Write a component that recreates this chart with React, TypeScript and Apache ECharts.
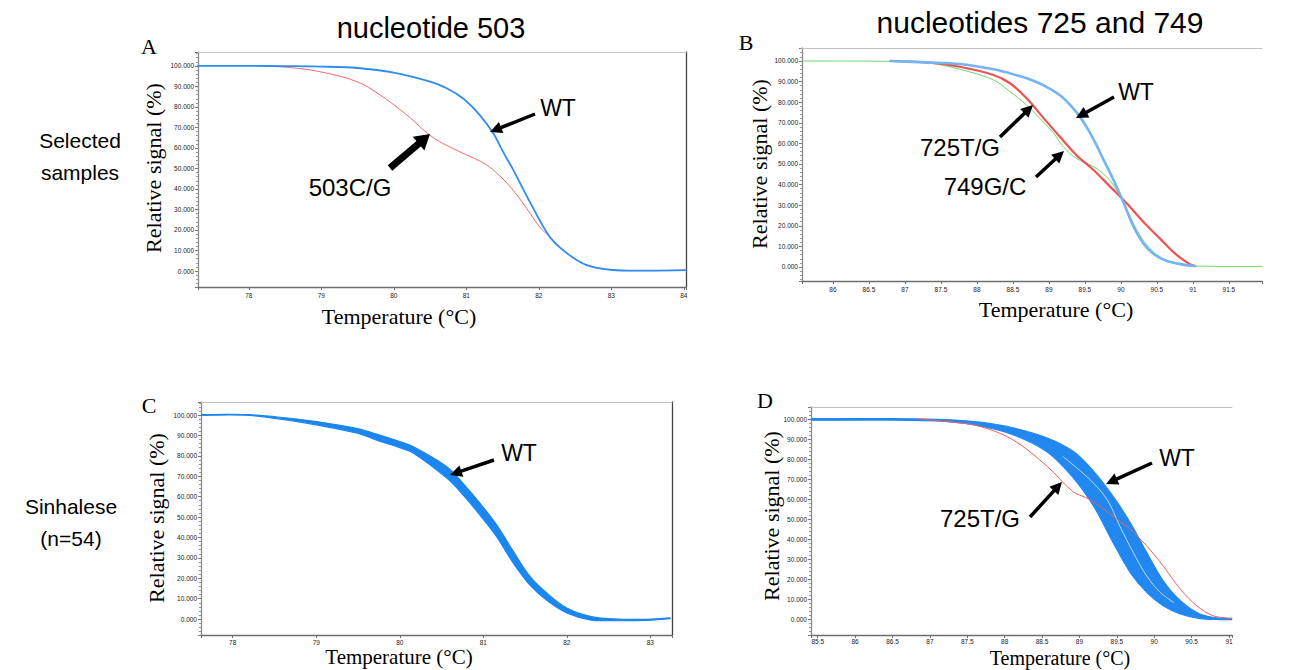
import React, { useEffect, useRef } from 'react';
import * as echarts from 'echarts';

// ---------- Panel A: nucleotide 503, selected samples ----------
const A_WT_TEMP = [77.3, 78.0, 78.5, 79.0, 79.5, 80.0, 80.5, 80.73, 80.96, 81.18, 81.37, 81.5, 81.64, 81.88, 82.15, 82.39, 82.66, 83.02, 83.5, 84.03];
const A_WT_SIGNAL = [100, 100, 99.9, 99.7, 99.0, 96.7, 92.3, 89.1, 84.0, 76.3, 67.3, 58.6, 49.8, 33.5, 16.7, 8.6, 2.9, 0.5, 0.2, 0.4];
const A_503_TEMP = [78.2, 78.57, 78.98, 79.49, 79.81, 80.18, 80.46, 80.63, 80.95, 81.28, 81.56, 81.78, 82.01, 82.15, 82.39, 82.66, 83.02, 83.5, 84.03];
const A_503_SIGNAL = [100, 99.2, 97.2, 92.4, 85.9, 76.1, 67.3, 63.1, 57.5, 51.7, 42.9, 33.2, 21.6, 16.7, 8.6, 2.9, 0.5, 0.2, 0.4];

// ---------- Panel B: nucleotides 725 and 749, selected samples ----------
const B_WT_TEMP = [86.8, 87.3, 87.76, 88.23, 88.46, 88.69, 88.92, 89.15, 89.29, 89.43, 89.52, 89.62, 89.76, 89.9, 90.04, 90.17, 90.31, 90.45, 90.63, 90.91, 91.03];
const B_WT_SIGNAL = [100, 99.3, 98.5, 96.0, 94.0, 91.6, 88.3, 83.5, 78.8, 73.0, 68.1, 61.9, 52.0, 42.0, 31.0, 20.0, 11.5, 6.4, 3.0, 0.9, 0.5];
const B_725_TEMP = [86.8, 87.3, 87.76, 88.23, 88.46, 88.69, 88.92, 89.15, 89.38, 89.62, 89.85, 90.08, 90.31, 90.54, 90.77, 90.95, 91.03];
const B_725_SIGNAL = [100, 99.3, 97.2, 93.2, 89.2, 81.9, 72.5, 63.3, 54.4, 47.1, 39.0, 30.9, 22.0, 13.9, 6.0, 1.5, 0.4];
const B_749_TEMP = [85.57, 86.8, 87.35, 87.76, 88.23, 88.46, 88.69, 88.92, 89.06, 89.2, 89.38, 89.62, 89.8, 89.94, 90.08, 90.22, 90.36, 90.54, 90.77, 91.0, 91.96];
const B_749_SIGNAL = [100, 99.8, 98.9, 96.0, 90.8, 85.1, 78.6, 70.5, 65.2, 58.4, 52.8, 48.7, 43.8, 37.4, 27.7, 18.0, 10.7, 5.0, 1.5, 0.5, 0.3];

// ---------- Panel C: nucleotide 503, Sinhalese (n=54) band ----------
const C_TEMP = [77.62, 78.2, 78.68, 79.0, 79.48, 79.76, 80.0, 80.16, 80.56, 80.76, 80.96, 81.16, 81.36, 81.56, 81.76, 82.0, 82.28, 82.56, 82.96, 83.24];
const C_UPPER = [100.2, 100.2, 98.4, 96.8, 93.5, 90.2, 87.0, 84.6, 74.8, 66.4, 56.8, 46.2, 33.2, 20.9, 12.8, 5.4, 1.3, 0.1, -0.1, 0.6];
const C_LOWER = [99.8, 99.8, 97.4, 95.2, 91.2, 87.2, 84.0, 81.4, 69.2, 60.8, 51.0, 40.4, 27.4, 16.6, 9.2, 3.0, -0.4, -0.8, -0.6, 0.2];

// ---------- Panel D: nucleotides 725 and 749, Sinhalese (n=54) ----------
const D_TEMP = [85.41, 86.5, 87.27, 87.67, 88.11, 88.57, 88.92, 89.19, 89.45, 89.68, 89.9, 90.12, 90.35, 90.61, 90.88, 91.04];
const D_UPPER = [100.2, 100.2, 99.6, 98.4, 95.6, 90.5, 83.7, 73.8, 61.3, 48.1, 33.2, 19.1, 9.1, 2.5, 0.4, 0.3];
const D_LOWER = [99.4, 99.4, 98.6, 96.6, 92.2, 83.5, 70.5, 56.4, 38.2, 23.2, 13.3, 6.6, 2.5, 0.2, -0.3, -0.3];
const D_STREAK_TEMP = [88.78, 89.14, 89.37, 89.54, 89.72, 89.9, 90.08, 90.26];
const D_STREAK_SIGNAL = [81.2, 69.7, 59.7, 46.4, 33.2, 21.5, 13.3, 8.3];
const D_725_TEMP = [86.85, 87.27, 87.67, 88.11, 88.57, 88.91, 89.14, 89.45, 89.68, 89.9, 90.12, 90.35, 90.57, 90.79, 91.04];
const D_725_SIGNAL = [100, 98.6, 96.3, 89.6, 76.3, 63.8, 59.7, 51.4, 44.8, 36.5, 26.5, 14.9, 6.6, 1.6, 0.3];

// ---------- Axis ranges and tick steps ----------
const PANEL_X_RANGES = [[77.3, 84.03], [85.57, 91.96], [77.62, 83.26], [85.41, 91.04]];
const PANEL_Y_RANGES = [[-7.8, 106.8], [-6.8, 106.3], [-7.8, 106.4], [-8, 106]];
const PANEL_X_STEPS = [1, 0.5, 1, 0.5];
const PANEL_X_SPLITS = [6, 12, 5, 11];
const Y_TICK_STEP = 10;

const GRIDS = [
  { left: 198, top: 52, width: 488, height: 235 },
  { left: 802, top: 48, width: 460, height: 233 },
  { left: 201, top: 402, width: 471, height: 233 },
  { left: 811, top: 407, width: 421, height: 228 },
];
const X_LABEL_MARGINS = [5, 5, 4, 3];
const RIGHT_BORDER = [true, false, true, false];

const SANS = '"Liberation Sans", Arial, sans-serif';
const SERIF = '"Liberation Serif", "Times New Roman", serif';
const SMOOTH = 0.35;

function zip(xs: number[], ys: number[]) {
  return xs.map((x, i) => [x, ys[i]]);
}

function isMultiple(v: number, step: number) {
  return Math.abs(v / step - Math.round(v / step)) < 1e-6;
}

// A measured curve, drawn as a smoothed polyline through the library's own scales
function curveSeries(idx: number, temps: number[], vals: number[], color: string, width: number, z = 2) {
  return {
    type: 'custom',
    xAxisIndex: idx * 2,
    yAxisIndex: idx,
    silent: true,
    z,
    data: zip(temps, vals),
    renderItem: (params: any, api: any) => {
      if (params.dataIndex !== 0) return null;
      const pts = temps.map((t, i) => api.coord([t, vals[i]]));
      return {
        type: 'polyline',
        shape: { points: pts, smooth: SMOOTH },
        style: { stroke: color, lineWidth: width, fill: null, lineJoin: 'round', lineCap: 'round' },
      };
    },
  };
}

function bandSeries(idx: number, temps: number[], upper: number[], lower: number[], color: string) {
  return {
    type: 'custom',
    xAxisIndex: idx * 2,
    yAxisIndex: idx,
    silent: true,
    z: 2,
    data: [[temps[0], upper[0]]],
    renderItem: (_params: any, api: any) => {
      const up = temps.map((t, i) => api.coord([t, upper[i]]));
      const lo = temps.map((t, i) => api.coord([t, lower[i]]));
      return {
        type: 'group',
        children: [
          { type: 'polygon', shape: { points: up.concat(lo.slice().reverse()), smooth: SMOOTH }, style: { fill: color } },
          { type: 'polyline', shape: { points: up, smooth: SMOOTH }, style: { stroke: color, lineWidth: 1.2, fill: null } },
          { type: 'polyline', shape: { points: lo, smooth: SMOOTH }, style: { stroke: color, lineWidth: 1.2, fill: null } },
        ],
      };
    },
  };
}

function arrow(x1: number, y1: number, x2: number, y2: number, w: number, headLen: number, headHalf: number) {
  const dx = x2 - x1;
  const dy = y2 - y1;
  const len = Math.sqrt(dx * dx + dy * dy);
  const ux = dx / len;
  const uy = dy / len;
  const bx = x2 - ux * headLen;
  const by = y2 - uy * headLen;
  const nx = -uy;
  const ny = ux;
  return [
    { type: 'line', shape: { x1, y1, x2: bx + ux * 1, y2: by + uy * 1 }, style: { stroke: '#000', lineWidth: w }, z: 100 },
    {
      type: 'polygon',
      shape: { points: [[x2, y2], [bx + nx * headHalf, by + ny * headHalf], [bx - nx * headHalf, by - ny * headHalf]] },
      style: { fill: '#000' },
      z: 100,
    },
  ];
}

function label(text: string, x: number, y: number, size: number, family: string, rotation = 0) {
  return {
    type: 'text',
    x,
    y,
    rotation,
    z: 100,
    style: {
      text,
      font: `${size}px ${family}`,
      fill: '#000',
      align: 'center',
      verticalAlign: 'middle',
      textAlign: 'center',
      textVerticalAlign: 'middle',
    },
  };
}

export default function App() {
  const ref = useRef<HTMLDivElement>(null);

  useEffect(() => {
    if (!ref.current) return;
    const chart = echarts.init(ref.current, undefined, { renderer: 'svg' });

    const grid = GRIDS.map((g) => ({ ...g, show: false, containLabel: false }));
    const xAxis: any[] = [];
    const yAxis: any[] = [];
    GRIDS.forEach((_g, i) => {
      const [xmin, xmax] = PANEL_X_RANGES[i];
      const step = PANEL_X_STEPS[i];
      xAxis.push({
        type: 'value',
        gridIndex: i,
        min: xmin,
        max: xmax,
        splitNumber: PANEL_X_SPLITS[i],
        axisLine: { show: true, onZero: false, lineStyle: { color: '#6e6e6e', width: 1.3 } },
        axisTick: { show: true, length: 3, lineStyle: { color: '#6e6e6e' } },
        axisLabel: {
          fontSize: 6.5,
          color: '#222',
          fontFamily: SANS,
          margin: X_LABEL_MARGINS[i],
          formatter: (v: number) => (isMultiple(v, step) ? (isMultiple(v, 1) ? String(Math.round(v)) : v.toFixed(1)) : ''),
        },
        splitLine: { show: false },
      });
      xAxis.push({
        type: 'value',
        gridIndex: i,
        position: 'top',
        min: xmin,
        max: xmax,
        axisLine: { show: true, onZero: false, lineStyle: { color: '#c4c4c4', width: 1 } },
        axisTick: { show: false },
        axisLabel: { show: false },
        splitLine: { show: false },
      });
    });
    GRIDS.forEach((_g, i) => {
      const [ymin, ymax] = PANEL_Y_RANGES[i];
      yAxis.push({
        type: 'value',
        gridIndex: i,
        min: ymin,
        max: ymax,
        splitNumber: 11,
        axisLine: { show: true, onZero: false, lineStyle: { color: '#8a8a8a', width: 1.3 } },
        axisTick: { show: true, length: 3, lineStyle: { color: '#777' } },
        minorTick: { show: true, splitNumber: 5, length: 2, lineStyle: { color: '#999' } },
        axisLabel: {
          fontSize: 6.5,
          color: '#222',
          fontFamily: SANS,
          margin: 4,
          formatter: (v: number) => (isMultiple(v, Y_TICK_STEP) && v > -1 && v < 101 ? v.toFixed(3) : ''),
        },
        splitLine: { show: false },
        minorSplitLine: { show: false },
      });
    });
    GRIDS.forEach((_g, i) => {
      if (!RIGHT_BORDER[i]) return;
      const [ymin, ymax] = PANEL_Y_RANGES[i];
      yAxis.push({
        type: 'value',
        gridIndex: i,
        position: 'right',
        min: ymin,
        max: ymax,
        axisLine: { show: true, onZero: false, lineStyle: { color: '#444', width: 1.3 } },
        axisTick: { show: false },
        axisLabel: { show: false },
        splitLine: { show: false },
      });
    });

    const series: any[] = [
      // A
      curveSeries(0, A_503_TEMP, A_503_SIGNAL, '#f26d6d', 1, 2),
      curveSeries(0, A_WT_TEMP, A_WT_SIGNAL, '#2d8ef0', 1.8, 3),
      // B
      curveSeries(1, B_749_TEMP, B_749_SIGNAL, '#6fd66f', 1, 2),
      curveSeries(1, B_725_TEMP, B_725_SIGNAL, '#f05252', 2.2, 3),
      curveSeries(1, B_WT_TEMP, B_WT_SIGNAL, '#74b4f2', 2.6, 4),
      // C
      bandSeries(2, C_TEMP, C_UPPER, C_LOWER, '#1c86ef'),
      // D
      bandSeries(3, D_TEMP, D_UPPER, D_LOWER, '#2288f0'),
      curveSeries(3, D_STREAK_TEMP, D_STREAK_SIGNAL, 'rgba(210,232,255,0.85)', 1, 3),
      curveSeries(3, D_725_TEMP, D_725_SIGNAL, '#f25e5e', 1, 4),
    ];

    const graphic: any[] = [
      label('nucleotide 503', 431, 28, 29, SANS),
      label('nucleotides 725 and 749', 1040, 22, 30, SANS),
      label('Selected', 80, 140, 21, SANS),
      label('samples', 80, 172, 21, SANS),
      label('Sinhalese', 71, 506, 21, SANS),
      label('(n=54)', 71, 538, 21, SANS),
      label('A', 149, 46, 22, SERIF),
      label('B', 746, 42, 22, SERIF),
      label('C', 149, 405, 22, SERIF),
      label('D', 765, 400, 22, SERIF),
      label('Relative signal (%)', 153, 168, 22, SERIF, Math.PI / 2),
      label('Relative signal (%)', 759, 164, 22, SERIF, Math.PI / 2),
      label('Relative signal (%)', 156, 518, 22, SERIF, Math.PI / 2),
      label('Relative signal (%)', 771, 516, 22, SERIF, Math.PI / 2),
      label('Temperature (°C)', 399, 316, 22, SERIF),
      label('Temperature (°C)', 1056, 309, 22, SERIF),
      label('Temperature (°C)', 399, 657, 21, SERIF),
      label('Temperature (°C)', 1060, 658, 20, SERIF),
      label('WT', 558, 108, 23, SANS),
      label('503C/G', 350, 187, 24, SANS),
      label('WT', 1136, 92, 23, SANS),
      label('725T/G', 960, 147, 24, SANS),
      label('749G/C', 985, 186, 24, SANS),
      label('WT', 519, 453, 23, SANS),
      label('WT', 1177, 458, 23, SANS),
      label('725T/G', 980, 518, 24, SANS),
      ...arrow(535, 114, 490, 132, 3.5, 12, 6),
      ...arrow(390, 168, 430, 134, 7, 15, 9),
      ...arrow(1114, 97, 1076, 118, 3.5, 12, 6),
      ...arrow(1000, 137, 1033, 105, 3.5, 12, 6),
      ...arrow(1036, 177, 1064, 151, 3.5, 12, 6),
      ...arrow(494, 460, 450, 475, 3.5, 12, 6),
      ...arrow(1152, 463, 1106, 484, 3.5, 12, 6),
      ...arrow(1030, 517, 1062, 482, 3.5, 12, 6),
    ];

    chart.setOption({
      animation: false,
      backgroundColor: '#fff',
      grid,
      xAxis,
      yAxis,
      series,
      graphic,
    });

    return () => {
      chart.dispose();
    };
  }, []);

  return (
    <div
      ref={ref}
      style={{ position: 'fixed', left: 0, top: 0, width: 1306, height: 670, background: '#fff' }}
    />
  );
}
